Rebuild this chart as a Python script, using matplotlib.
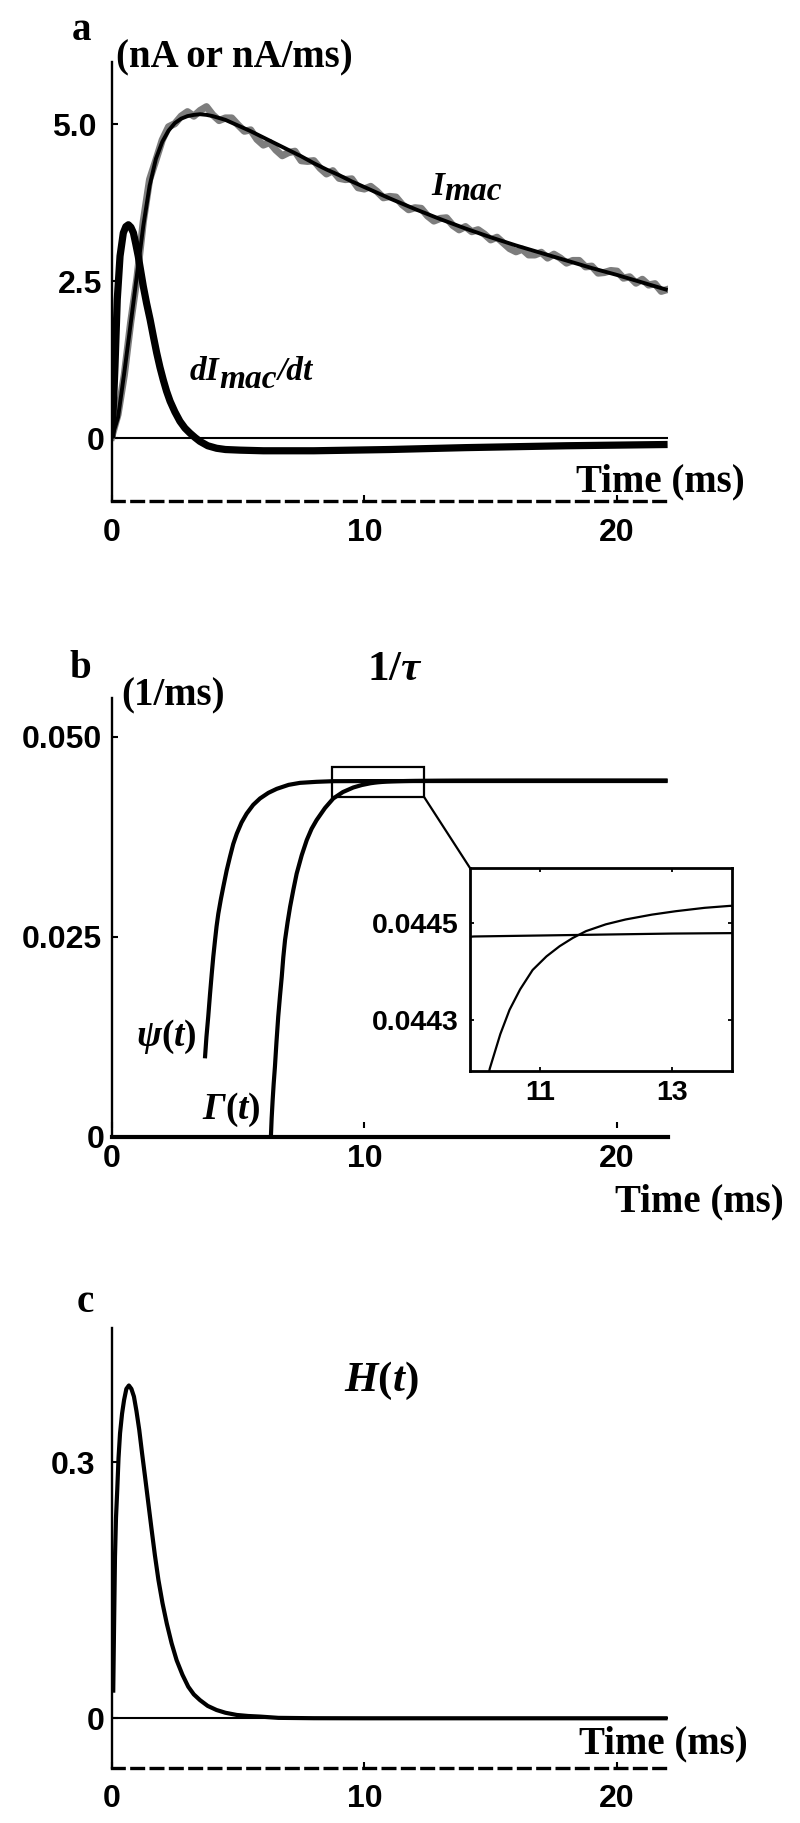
import matplotlib
matplotlib.use('Agg')
import matplotlib.pyplot as plt
from matplotlib.patches import Rectangle, ConnectionPatch
from matplotlib.font_manager import FontProperties

plt.rcParams['font.family'] = ['Liberation Serif', 'DejaVu Serif']
plt.rcParams['mathtext.fontset'] = 'custom'
plt.rcParams['mathtext.rm'] = 'Liberation Serif:bold'
plt.rcParams['mathtext.it'] = 'Liberation Serif:italic:bold'
plt.rcParams['mathtext.bf'] = 'Liberation Serif:bold'
plt.rcParams['mathtext.cal'] = 'Liberation Serif:italic:bold'

# ---------------- data ----------------
# panel a: measured macroscopic current (noisy, gray) and fit (black)
t_data = [i * 0.25 for i in range(89)]
I_data = [0.02, 0.38, 1.01, 1.84, 2.55, 3.45, 4.12, 4.43, 4.75, 4.96, 5.01, 5.13,
          5.20, 5.13, 5.22, 5.28, 5.15, 5.06, 5.10, 5.10, 4.99, 4.89, 4.91, 4.76,
          4.67, 4.71, 4.59, 4.50, 4.55, 4.57, 4.42, 4.41, 4.42, 4.30, 4.21, 4.26,
          4.14, 4.12, 4.13, 3.99, 3.97, 4.01, 3.93, 3.83, 3.85, 3.84, 3.72, 3.64,
          3.67, 3.66, 3.54, 3.46, 3.50, 3.51, 3.39, 3.32, 3.37, 3.29, 3.32, 3.25,
          3.16, 3.20, 3.11, 3.02, 2.97, 3.01, 2.92, 2.92, 2.96, 2.87, 2.93, 2.87,
          2.79, 2.83, 2.83, 2.73, 2.74, 2.63, 2.64, 2.67, 2.66, 2.55, 2.57, 2.47,
          2.53, 2.44, 2.46, 2.34, 2.37]
t_fit = [0, 0.25, 0.5, 0.75, 1.0, 1.25, 1.5, 1.75, 2.0, 2.25, 2.5, 2.75, 3.0, 3.25,
         3.5, 3.75, 4.0, 4.5, 5.0, 5.5, 6.0, 6.5, 7.0, 7.5, 8.0, 8.5, 9.0, 9.5, 10,
         11, 12, 13, 14, 15, 16, 17, 18, 19, 20, 21, 22]
I_fit = [0, 0.33, 1.05, 1.82, 2.60, 3.38, 4.02, 4.45, 4.72, 4.90, 5.02, 5.09, 5.13,
         5.15, 5.16, 5.15, 5.13, 5.07, 4.98, 4.89, 4.79, 4.69, 4.59, 4.49, 4.38, 4.28,
         4.19, 4.09, 4.00, 3.82, 3.65, 3.49, 3.34, 3.20, 3.07, 2.95, 2.83, 2.71, 2.60,
         2.48, 2.36]
t_dI = [0, 0.07, 0.13, 0.22, 0.33, 0.46, 0.56, 0.66, 0.76, 0.86, 0.95, 1.05, 1.15,
        1.25, 1.38, 1.52, 1.65, 1.78, 1.91, 2.04, 2.17, 2.31, 2.5, 2.7, 2.9, 3.1,
        3.3, 3.49, 3.8, 4.15, 4.5, 5.08, 6.0, 8.0, 11.0, 14.0, 18.0, 22.0]
dI = [0, 0.55, 1.15, 2.21, 2.90, 3.27, 3.37, 3.40, 3.36, 3.27, 3.10, 2.90, 2.66,
      2.42, 2.15, 1.89, 1.62, 1.36, 1.13, 0.93, 0.75, 0.59, 0.42, 0.27, 0.16, 0.08,
      0.01, -0.05, -0.12, -0.16, -0.18, -0.19, -0.20, -0.20, -0.18, -0.15, -0.12,
      -0.10]

# panel b: 1/tau estimates
t_psi = [3.69, 3.75, 3.82, 3.89, 3.96, 4.02, 4.09, 4.15, 4.22, 4.32, 4.42, 4.55,
         4.68, 4.81, 4.95, 5.14, 5.34, 5.6, 5.87, 6.2, 6.53, 7.0, 7.45, 8.1, 8.77,
         10, 11, 12, 13, 14, 18, 22]
psi = [0.0098, 0.0125, 0.015, 0.0178, 0.0204, 0.0225, 0.0246, 0.0263, 0.0279,
       0.0297, 0.0313, 0.0333, 0.035, 0.0366, 0.0379, 0.0393, 0.0404, 0.0415,
       0.0423, 0.0430, 0.0435, 0.0440, 0.04425, 0.04438, 0.04446, 0.044472,
       0.044474, 0.044476, 0.044478, 0.044479, 0.04448, 0.04448]
t_gam = [6.30, 6.33, 6.37, 6.41, 6.46, 6.52, 6.59, 6.66, 6.73, 6.79, 6.86, 6.96,
         7.06, 7.19, 7.32, 7.52, 7.72, 7.91, 8.11, 8.44, 8.77, 9.15, 9.56, 9.9,
         10.24, 10.4, 10.54, 10.7, 10.89, 11.1, 11.3, 11.5, 11.7, 12.0, 12.3, 12.7,
         13.06, 13.5, 13.88, 16, 19, 22]
gam = [0, 0.0023, 0.0046, 0.0066, 0.00875, 0.0118, 0.015, 0.0176, 0.02, 0.0224,
       0.0246, 0.0268, 0.02875, 0.0309, 0.0329, 0.0352, 0.0371, 0.0385, 0.0396,
       0.0411, 0.0423, 0.0431, 0.04367, 0.04398, 0.0442, 0.044271, 0.044321,
       0.044363, 0.044403, 0.044431, 0.044452, 0.044469, 0.044483, 0.044497,
       0.044507, 0.044517, 0.044524, 0.044531, 0.044535, 0.044545, 0.044549,
       0.04455]

# panel c: H(t)
t_H = [0.06, 0.09, 0.13, 0.17, 0.22, 0.27, 0.33, 0.41, 0.49, 0.58, 0.68, 0.78,
       0.88, 0.98, 1.09, 1.2, 1.32, 1.45, 1.58, 1.71, 1.85, 2.01, 2.18, 2.37,
       2.57, 2.8, 3.03, 3.25, 3.49, 3.8, 4.15, 4.5, 4.95, 5.4, 5.87, 6.6, 8, 10,
       15, 22]
H_vals = [0.03, 0.10, 0.189, 0.235, 0.268, 0.305, 0.334, 0.357, 0.373, 0.386,
          0.390, 0.386, 0.377, 0.360, 0.338, 0.311, 0.283, 0.252, 0.221, 0.191,
          0.162, 0.135, 0.111, 0.088, 0.068, 0.051, 0.037, 0.028, 0.0214, 0.0145,
          0.0097, 0.0065, 0.0039, 0.0027, 0.002, 0.0005, 0.0001, 0, 0, 0]

x_ticks = [0, 10, 20]
x_ticklabels = ['0', '10', '20']
a_yticks = [0, 2.5, 5.0]
a_yticklabels = ['0', '2.5', '5.0']
b_yticks = [0, 0.025, 0.050]
b_yticklabels = ['0', '0.025', '0.050']
c_yticks = [0, 0.3]
c_yticklabels = ['0', '0.3']
ins_xticks = [11, 13]
ins_xticklabels = ['11', '13']
ins_yticks = [0.0443, 0.0445]
ins_yticklabels = ['0.0443', '0.0445']
zoom_t = (8.73, 12.36)
zoom_v = (0.0425, 0.04625)

# ---------------- figure ----------------
W, H = 800, 1823
fig = plt.figure(figsize=(W / 100, H / 100), dpi=100)


def fx(px):
    return px / W


def fy(py):
    return 1 - py / H


def add_axes(left, top, right, bottom):
    return fig.add_axes([fx(left), fy(bottom), (right - left) / W, (bottom - top) / H])


tick_fp = FontProperties(family='Liberation Sans', weight='bold', size=23)
ins_fp = FontProperties(family='Liberation Sans', weight='bold', size=20.5)
KW_LAB = dict(fontsize=28, fontweight='bold')
KW_IT = dict(fontsize=24, fontweight='bold', fontstyle='italic')
CURVE = dict(color='k', solid_capstyle='butt', solid_joinstyle='round')


def style_main(ax, ylim, yticks, yticklabels, ypads, xpad, dashed=True, xspine_at=None):
    ax.set_xlim(0, 22)
    ax.set_ylim(*ylim)
    ax.spines['top'].set_visible(False)
    ax.spines['right'].set_visible(False)
    ax.spines['left'].set_linewidth(1.7)
    if xspine_at is not None:
        ax.spines['bottom'].set_position(('data', xspine_at))
        ax.spines['bottom'].set_visible(False)
    elif dashed:
        ax.spines['bottom'].set_linewidth(2.4)
        ax.spines['bottom'].set_linestyle((0, (3.5, 2.3)))
    ax.set_xticks(x_ticks)
    ax.set_xticklabels(x_ticklabels, fontproperties=tick_fp)
    ax.set_yticks(yticks)
    ax.set_yticklabels(yticklabels, fontproperties=tick_fp)
    ax.tick_params(axis='both', direction='in', length=4, width=1.5)
    ax.tick_params(axis='x', pad=xpad)
    for tk, p in zip(ax.yaxis.get_major_ticks(), ypads):
        tk.set_pad(p)


# ---- panel a ----
axa = add_axes(111.7, 61.5, 667.6, 501)
style_main(axa, (-1, 6), a_yticks, a_yticklabels, [4.8, 7.0, 10.8], 12)
axa.axhline(0, color='k', lw=1.5, zorder=1)
axa.plot(t_data, I_data, color='#7d7d7d', lw=5.2, solid_joinstyle='round', zorder=2)
axa.plot(t_fit, I_fit, lw=2.8, zorder=3, **CURVE)
axa.plot(t_dI, dI, lw=5.2, zorder=3, **CURVE)

t1 = axa.text(12.64, 3.88, 'I', va='baseline', ha='left', **KW_IT)
axa.annotate('mac', xy=(1, 0), xycoords=t1, xytext=(0, -4), textcoords='offset points',
             va='bottom', ha='left', **KW_IT)
d1 = axa.text(3.1, 0.93, 'dI', va='baseline', ha='left', **KW_IT)
d2 = axa.annotate('mac', xy=(1, 0), xycoords=d1, xytext=(0, -6), textcoords='offset points',
                  va='bottom', ha='left', **KW_IT)
axa.annotate('/dt', xy=(1, 0), xycoords=d2, xytext=(0, 6), textcoords='offset points',
             va='bottom', ha='left', **KW_IT)

fig.text(fx(81.6), fy(30.7), 'a', ha='center', va='center', **KW_LAB)
fig.text(fx(116), fy(57.5), '(nA or nA/ms)', ha='left', va='center', **KW_LAB)
fig.text(fx(660.5), fy(481.7), 'Time (ms)', ha='center', va='center', **KW_LAB)

# ---- panel b ----
axb = add_axes(111.7, 697.7, 667.6, 1136.7)
style_main(axb, (0, 0.0549), b_yticks, b_yticklabels, [5.0, 7.0, 7.0], 11.3,
           dashed=False, xspine_at=0.00105)
axb.axhline(0, color='k', lw=3, zorder=1, clip_on=False)
axb.plot(t_psi, psi, lw=3, zorder=3, **CURVE)
axb.plot(t_gam, gam, lw=3, zorder=3, **CURVE)
axb.add_patch(Rectangle((zoom_t[0], zoom_v[0]), zoom_t[1] - zoom_t[0], zoom_v[1] - zoom_v[0],
                        fill=False, ec='k', lw=1.6, zorder=4))
axb.text(2.17, 0.0125, r'$\psi(t)$', ha='center', va='center', fontsize=27)
axb.text(4.75, 0.0033, r'$\mathcal{\Gamma}(t)$', ha='center', va='center', fontsize=27)

fig.text(fx(80), fy(668), 'b', ha='center', va='center', **KW_LAB)
fig.text(fx(121), fy(695.5), '(1/ms)', ha='left', va='center', **KW_LAB)
fig.text(fx(395), fy(670), r'$1/\tau$', ha='center', va='center', fontsize=31)
fig.text(fx(699), fy(1202), 'Time (ms)', ha='center', va='center', **KW_LAB)

# inset
axi = add_axes(470, 868, 731.7, 1071)
axi.set_xlim(9.94, 13.91)
axi.set_ylim(0.044195, 0.044613)
axi.plot(t_psi, psi, lw=1.6, **CURVE)
axi.plot(t_gam, gam, lw=1.6, **CURVE)
for s in axi.spines.values():
    s.set_linewidth(2.0)
axi.set_xticks(ins_xticks)
axi.set_xticklabels(ins_xticklabels, fontproperties=ins_fp)
axi.set_yticks(ins_yticks)
axi.set_yticklabels(ins_yticklabels, fontproperties=ins_fp)
axi.tick_params(axis='both', direction='in', length=3, width=1.3, top=True, right=True)
axi.tick_params(axis='x', pad=6.5)
axi.tick_params(axis='y', pad=8.4)
con = ConnectionPatch(xyA=(zoom_t[1], zoom_v[0]), coordsA=axb.transData,
                      xyB=(0, 1), coordsB=axi.transAxes, color='k', lw=1.6)
fig.add_artist(con)

# ---- panel c ----
axc = add_axes(111.7, 1328.3, 667.6, 1768.3)
style_main(axc, (-0.0586, 0.457), c_yticks, c_yticklabels, [4.8, 12.0], 11.5)
axc.axhline(0, color='k', lw=1.5, zorder=1)
axc.plot(t_H, H_vals, lw=3, zorder=3, **CURVE)
axc.text(10.66, 0.3956, r'$H(t)$', ha='center', va='center', fontsize=31)

fig.text(fx(85), fy(1303), 'c', ha='center', va='center', **KW_LAB)
fig.text(fx(663), fy(1744), 'Time (ms)', ha='center', va='center', **KW_LAB)

fig.savefig('out.png', dpi=100)
